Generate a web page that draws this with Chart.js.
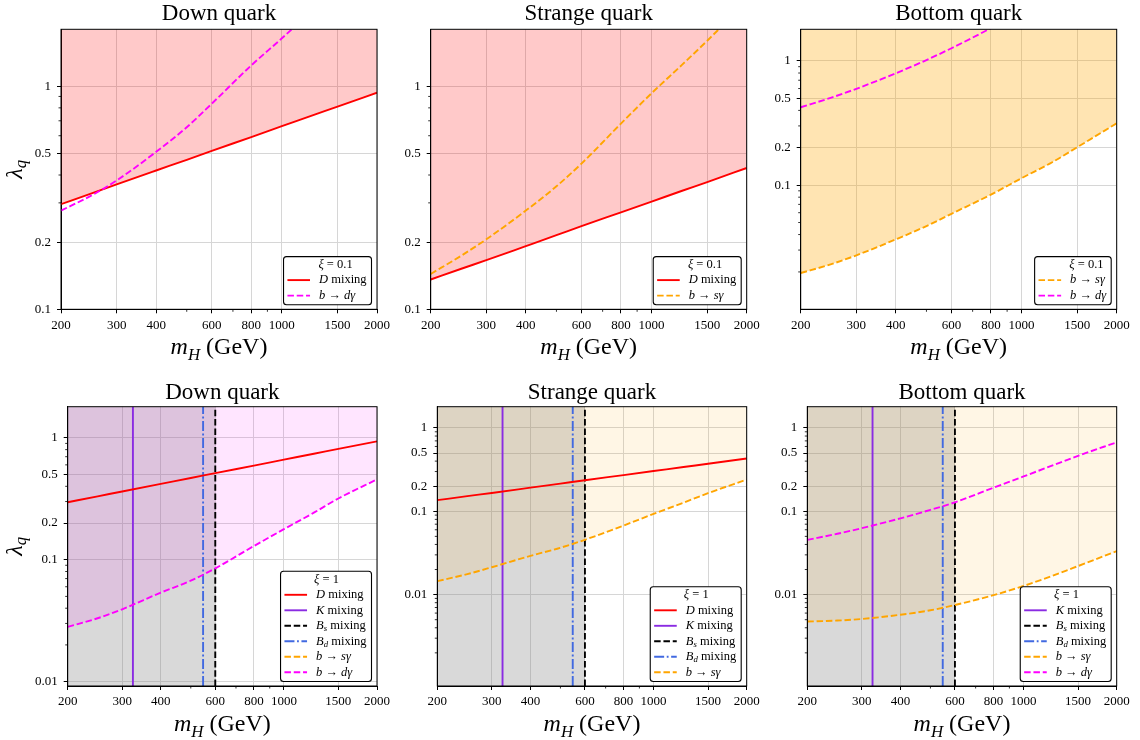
<!DOCTYPE html>
<html>
<head>
<meta charset="utf-8">
<script src="https://cdn.jsdelivr.net/npm/chart.js@4.4.0/dist/chart.umd.min.js"></script>
<style>
  body { margin: 0; background: #fff; }
  #wrap { position: relative; width: 1140px; height: 740px; overflow: hidden; }
  #wrap canvas { position: absolute; }
</style>
</head>
<body>
<div id="wrap"></div>
<script>
// m_H points used for every curve (GeV)
const massGeV = [200, 250, 300, 400, 500, 600, 800, 1000, 1250, 1500, 2000];
const xTicks = [200, 300, 400, 600, 800, 1000, 1500, 2000];
const xMinor = [500, 700, 900];

// D mixing bound (same for xi = 0.1 and xi = 1)
const dMixDown = [0.296, 0.331, 0.363, 0.419, 0.468, 0.513, 0.592, 0.662, 0.740, 0.811, 0.936];
const dMixStrange = [0.136, 0.152, 0.166, 0.192, 0.215, 0.236, 0.272, 0.304, 0.340, 0.372, 0.430];

// b -> d gamma
const bdgDownXi01 = [0.277, 0.324, 0.378, 0.508, 0.655, 0.835, 1.24, 1.64, 2.2, 2.85, 4.3];
const bdgDownXi1 = [0.0281, 0.0331, 0.0392, 0.0537, 0.0673, 0.0849, 0.1295, 0.178, 0.243, 0.318, 0.456];
const bdgBottomXi01 = [0.424, 0.507, 0.597, 0.796, 1.018, 1.267, 1.84, 2.49, 3.4, 4.39, 6.66];
const bdgBottomXi1 = [0.0454, 0.0537, 0.0627, 0.0823, 0.104, 0.128, 0.192, 0.262, 0.359, 0.463, 0.673];

// b -> s gamma
const bsgStrangeXi01 = [0.144, 0.174, 0.206, 0.277, 0.356, 0.45, 0.68, 0.93, 1.25, 1.6, 2.4];
const bsgStrangeXi1 = [0.0145, 0.0176, 0.0213, 0.0292, 0.0365, 0.0455, 0.0674, 0.0931, 0.127, 0.165, 0.240];
const bsgBottomXi01 = [0.0196, 0.0231, 0.0272, 0.0366, 0.0468, 0.0588, 0.0839, 0.1138, 0.153, 0.202, 0.315];
const bsgBottomXi1 = [0.00475, 0.00488, 0.0051, 0.00573, 0.00648, 0.0075, 0.00985, 0.0127, 0.0170, 0.0220, 0.0333];

// meson mixing bounds, vertical lines (GeV)
const kMixMass = 325;
const bdMixMass = 548;
const bsMixMass = 600;

const titles = ['Down quark', 'Strange quark', 'Bottom quark'];
const yTicksTop = [0.1, 0.2, 0.5, 1];
const yTicksLow = [0.01, 0.1, 0.2, 0.5, 1];
const yMinor = [0.002, 0.003, 0.004, 0.005, 0.006, 0.007, 0.008, 0.009,
                0.02, 0.03, 0.04, 0.05, 0.06, 0.07, 0.08, 0.09,
                0.3, 0.4, 0.6, 0.7, 0.8, 0.9];

const FONT = '"Liberation Serif", "DejaVu Serif", serif';
const GRID = '#d6d6d6';
const LW = 1.9;
const DASH = [6.5, 2.8];

// line styles
const styles = {
  D:   { color: '#ff0000', dash: [], label: [['D', 'i'], [' mixing', 'r']] },
  K:   { color: '#8a2be2', dash: [], label: [['K', 'i'], [' mixing', 'r']] },
  Bs:  { color: '#000000', dash: DASH, label: [['B', 'i'], ['s', 'is'], [' mixing', 'r']] },
  Bd:  { color: '#4169e1', dash: [10, 2.6, 1.8, 2.6], label: [['B', 'i'], ['d', 'is'], [' mixing', 'r']] },
  bsg: { color: '#ffa500', dash: DASH, label: [['b', 'i'], [' \u2192 ', 'r'], ['s\u03b3', 'i']] },
  bdg: { color: '#ff00ff', dash: DASH, label: [['b', 'i'], [' \u2192 ', 'r'], ['d\u03b3', 'i']] }
};

function pts(arr) {
  return massGeV.map((m, i) => ({ x: m, y: arr[i] }));
}

function curve(key, arr, fillColor) {
  const s = styles[key];
  return {
    data: pts(arr), borderColor: s.color, borderDash: s.dash, borderWidth: LW,
    pointRadius: 0, cubicInterpolationMode: 'monotone',
    fill: fillColor ? 'end' : false, backgroundColor: fillColor || 'transparent'
  };
}

function vline(key, mass, yr) {
  const s = styles[key];
  return {
    data: [{ x: mass, y: yr[0] }, { x: mass, y: yr[1] }],
    borderColor: s.color, borderDash: s.dash, borderWidth: LW, pointRadius: 0, fill: false
  };
}

// excluded region left of the B_s mixing bound
function grayBox(yr) {
  return {
    data: [{ x: massGeV[0], y: yr[1] }, { x: bsMixMass, y: yr[1] }],
    borderWidth: 0, pointRadius: 0, fill: 'start', backgroundColor: 'rgba(128,128,128,0.3)'
  };
}

const yTop = [0.1, 1.8];
const yBot3 = [0.01, 1.8];
const yLowD = [0.0092, 1.8];
const yLow = [0.0008, 1.8];

const panels = [
  { canvas: [0, 0, 400, 370], plot: [61, 29.3, 377, 309.3], title: titles[0], titleGap: 9.8,
    yr: yTop, yTicks: yTicksTop, yLabel: true, xi: '0.1', titleShift: 8.5, legend: ['D', 'bdg'],
    datasets: [curve('bdg', bdgDownXi01), curve('D', dMixDown, 'rgba(255,0,0,0.21)')] },
  { canvas: [380, 0, 395, 370], plot: [430.7, 29.3, 746.7, 309.3], title: titles[1], titleGap: 9.8,
    yr: yTop, yTicks: yTicksTop, yLabel: false, xi: '0.1', titleShift: 8.3, legend: ['D', 'bsg'],
    datasets: [curve('bsg', bsgStrangeXi01), curve('D', dMixStrange, 'rgba(255,0,0,0.21)')] },
  { canvas: [755, 0, 385, 370], plot: [800.7, 29.3, 1116.7, 309.3], title: titles[2], titleGap: 9.8,
    yr: yBot3, yTicks: yTicksTop, yLabel: false, xi: '0.1', titleShift: 14, legend: ['bsg', 'bdg'],
    datasets: [curve('bdg', bdgBottomXi01), curve('bsg', bsgBottomXi01, 'rgba(255,165,0,0.3)')] },
  { canvas: [0, 370, 400, 370], plot: [67.7, 406.7, 377, 686], title: titles[0], titleGap: 7.4,
    yr: yLowD, yTicks: yTicksLow, yLabel: true, xi: '1', titleShift: 1, legend: ['D', 'K', 'Bs', 'Bd', 'bsg', 'bdg'],
    datasets: [curve('D', dMixDown), curve('bdg', bdgDownXi1, 'rgba(255,0,255,0.1)'),
      vline('K', kMixMass, yLowD), vline('Bs', bsMixMass, yLowD), vline('Bd', bdMixMass, yLowD), grayBox(yLowD)] },
  { canvas: [380, 370, 395, 370], plot: [437.3, 406.7, 746.7, 686], title: titles[1], titleGap: 7.4,
    yr: yLow, yTicks: yTicksLow, yLabel: false, xi: '1', titleShift: 1, legend: ['D', 'K', 'Bs', 'Bd', 'bsg'],
    datasets: [curve('D', dMixStrange), curve('bsg', bsgStrangeXi1, 'rgba(255,165,0,0.1)'),
      vline('K', kMixMass, yLow), vline('Bs', bsMixMass, yLow), vline('Bd', bdMixMass, yLow), grayBox(yLow)] },
  { canvas: [755, 370, 385, 370], plot: [807.3, 406.7, 1116.7, 686], title: titles[2], titleGap: 7.4,
    yr: yLow, yTicks: yTicksLow, yLabel: false, xi: '1', titleShift: 1.3, legend: ['K', 'Bs', 'Bd', 'bsg', 'bdg'],
    datasets: [curve('bdg', bdgBottomXi1), curve('bsg', bsgBottomXi1, 'rgba(255,165,0,0.1)'),
      vline('K', kMixMass, yLow), vline('Bs', bsMixMass, yLow), vline('Bd', bdMixMass, yLow), grayBox(yLow)] }
];

// text with italic / subscript pieces
function richSpec(ctx, parts, size) {
  return parts.map(([t, s]) => {
    const sub = s === 'is';
    const fs = sub ? size * 0.7 : size;
    const font = (s === 'r' ? '' : 'italic ') + fs + 'px ' + FONT;
    ctx.font = font;
    return { t, font, w: ctx.measureText(t).width, dy: sub ? size * 0.25 : 0 };
  });
}
function drawRich(ctx, parts, x, y, size, align) {
  const spec = richSpec(ctx, parts, size);
  const total = spec.reduce((s, p) => s + p.w, 0);
  let cx = align === 'center' ? x - total / 2 : x;
  ctx.textAlign = 'left';
  spec.forEach(p => { ctx.font = p.font; ctx.fillText(p.t, cx, y + p.dy); cx += p.w; });
}
function richWidth(ctx, parts, size) {
  return richSpec(ctx, parts, size).reduce((s, p) => s + p.w, 0);
}

function makeDecor(p) {
  return {
    id: 'decor',
    afterDraw(chart) {
      const ctx = chart.ctx, a = chart.chartArea;
      const xs = chart.scales.x, ys = chart.scales.y;
      ctx.save();
      ctx.strokeStyle = '#000';
      ctx.fillStyle = '#000';

      // minor ticks
      ctx.lineWidth = 0.8;
      ctx.beginPath();
      xMinor.forEach(v => {
        const px = xs.getPixelForValue(v);
        ctx.moveTo(px, a.bottom); ctx.lineTo(px, a.bottom + 2.5);
      });
      yMinor.forEach(v => {
        if (v < p.yr[0] || v > p.yr[1]) return;
        const py = ys.getPixelForValue(v);
        ctx.moveTo(a.left, py); ctx.lineTo(a.left - 2.5, py);
      });
      ctx.stroke();

      // frame
      ctx.lineWidth = 1;
      ctx.strokeRect(a.left, a.top, a.right - a.left, a.bottom - a.top);

      // title
      ctx.textBaseline = 'alphabetic';
      ctx.textAlign = 'center';
      ctx.font = '23px ' + FONT;
      ctx.fillText(p.title, (a.left + a.right) / 2, a.top - p.titleGap);

      // axis labels
      drawRich(ctx, [['m', 'i'], ['H', 'is'], [' (GeV)', 'r']], (a.left + a.right) / 2, a.bottom + 45, 24, 'center');
      if (p.yLabel) {
        ctx.save();
        ctx.translate(16, (a.top + a.bottom) / 2);
        ctx.rotate(-Math.PI / 2);
        ctx.textBaseline = 'middle';
        drawRich(ctx, [['\u03bb', 'i'], ['q', 'is']], 0, 0, 24, 'center');
        ctx.restore();
      }

      // legend box
      const fs = 12.5, rowH = 15.5;
      const items = p.legend.map(k => styles[k]);
      const textW = Math.max(...items.map(s => richWidth(ctx, s.label, fs)));
      const w = 4.4 + 31.6 + textW + 4.4;
      const h = 17.2 + rowH * items.length;
      const right = a.right - 6, bottom = a.bottom - 5;
      const left = right - w, top = bottom - h;
      ctx.beginPath();
      if (ctx.roundRect) ctx.roundRect(left + 0.5, top + 0.5, w, h, 3);
      else ctx.rect(left + 0.5, top + 0.5, w, h);
      ctx.fillStyle = '#fff';
      ctx.fill();
      ctx.lineWidth = 1.1;
      ctx.strokeStyle = '#000';
      ctx.stroke();
      ctx.fillStyle = '#000';
      ctx.textBaseline = 'middle';
      drawRich(ctx, [['\u03be', 'i'], [' = ' + p.xi, 'r']], left + w / 2 + p.titleShift, top + 8.5, fs, 'center');
      items.forEach((s, i) => {
        const cy = top + 8.5 + rowH * (i + 1);
        ctx.beginPath();
        ctx.setLineDash(s.dash);
        ctx.strokeStyle = s.color;
        ctx.lineWidth = LW;
        ctx.moveTo(left + 4.4, cy); ctx.lineTo(left + 27, cy);
        ctx.stroke();
        ctx.setLineDash([]);
        ctx.fillStyle = '#000';
        drawRich(ctx, s.label, left + 36, cy, fs, 'left');
      });
      ctx.restore();
    }
  };
}

const wrap = document.getElementById('wrap');
panels.forEach(p => {
  const [cl, ct, cw, ch] = p.canvas;
  const [pl, pt, pr, pb] = p.plot;
  const cv = document.createElement('canvas');
  cv.width = cw; cv.height = ch;
  cv.style.left = cl + 'px'; cv.style.top = ct + 'px';
  cv.style.width = cw + 'px'; cv.style.height = ch + 'px';
  wrap.appendChild(cv);

  const yAxisW = pl - cl, xAxisH = ct + ch - pb;
  new Chart(cv, {
    type: 'line',
    data: { datasets: p.datasets },
    options: {
      responsive: false,
      animation: false,
      devicePixelRatio: 1,
      layout: { padding: { top: pt - ct, right: cl + cw - pr, left: 0, bottom: 0 } },
      plugins: {
        legend: { display: false },
        tooltip: { enabled: false },
        filler: { drawTime: 'beforeDatasetsDraw' }
      },
      scales: {
        x: {
          type: 'logarithmic', min: massGeV[0], max: massGeV[massGeV.length - 1],
          afterBuildTicks: s => { s.ticks = xTicks.map(v => ({ value: v })); },
          afterFit: s => { s.height = xAxisH; s.paddingLeft = 0; s.paddingRight = 0; },
          ticks: { callback: v => String(v), autoSkip: false, maxRotation: 0, padding: 4,
                   color: '#000', font: { family: FONT, size: 13 } },
          grid: { color: GRID, tickColor: '#000', tickLength: 4 },
          border: { color: '#000' }
        },
        y: {
          type: 'logarithmic', min: p.yr[0], max: p.yr[1],
          afterBuildTicks: s => { s.ticks = p.yTicks.map(v => ({ value: v })); },
          afterFit: s => { s.width = yAxisW; s.paddingTop = 0; s.paddingBottom = 0; },
          ticks: { callback: v => String(v), autoSkip: false, padding: 6,
                   color: '#000', font: { family: FONT, size: 13 } },
          grid: { color: GRID, tickColor: '#000', tickLength: 4 },
          border: { color: '#000' }
        }
      }
    },
    plugins: [makeDecor(p)]
  });
});
</script>
</body>
</html>
